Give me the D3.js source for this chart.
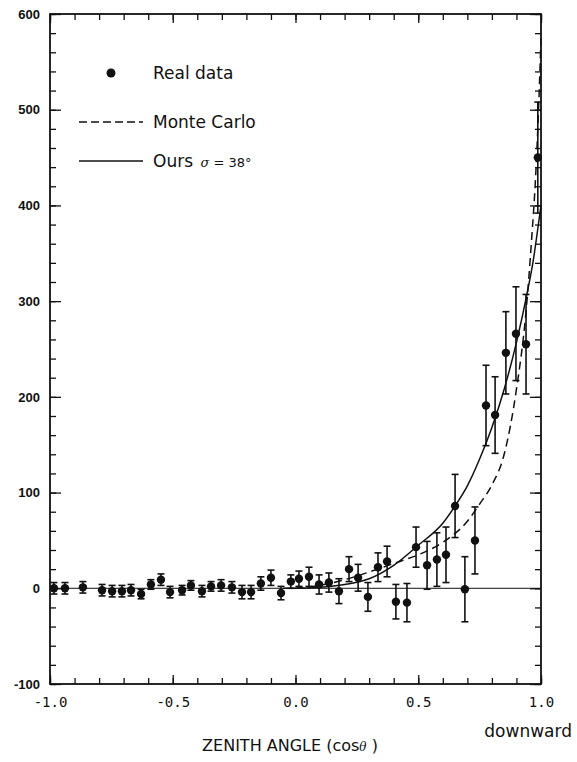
<!DOCTYPE html>
<html>
  <head>
    <meta charset="utf-8">
    <script src="https://d3js.org/d3.v7.min.js"></script>
    <title>Zenith angle distribution</title>
    <style>
      body { margin: 0px; background: #fff; overflow: hidden; }
      svg { display: block; }
      .domain { display: none; }
      .tick line { stroke: #111; stroke-width: 1.3; }
      .y-axis .tick text {
        fill: #111; font-size: 13px; font-weight: bold;
        font-family: 'Liberation Sans', sans-serif;
      }
      .x-axis .tick text {
        fill: #111; font-size: 14px;
        font-family: 'DejaVu Sans Mono', monospace;
      }
      .label {
        fill: #111; font-family: 'DejaVu Sans', sans-serif;
      }
    </style>
  </head>
  <body>
    <svg width="577" height="762"></svg>
    <script>

      // measured points: cos(theta), counts, error half-length
      const cosTheta = [-0.984, -0.939, -0.866, -0.788, -0.747, -0.707, -0.670, -0.629, -0.589, -0.548,
        -0.511, -0.462, -0.426, -0.381, -0.344, -0.303, -0.259, -0.218, -0.181, -0.141,
        -0.100, -0.059, -0.019, 0.014, 0.055, 0.096, 0.136, 0.177, 0.218, 0.255,
        0.295, 0.336, 0.373, 0.409, 0.454, 0.491, 0.536, 0.576, 0.613, 0.650,
        0.690, 0.731, 0.776, 0.813, 0.857, 0.898, 0.939, 0.987];
      const counts = [0, 0, 1, -2, -3, -3, -2, -6, 4, 9,
        -4, -2, 3, -3, 2, 3, 1, -4, -4, 5,
        11, -5, 7, 10, 12, 4, 6, -3, 20, 11,
        -9, 22, 28, -14, -15, 43, 24, 30, 35, 86,
        -1, 50, 191, 181, 246, 266, 255, 450];
      const errors = [6, 6, 6, 6, 6, 6, 6, 5, 5, 6,
        6, 5, 5, 6, 5, 6, 6, 7, 7, 7,
        8, 7, 7, 8, 10, 10, 10, 13, 13, 14,
        15, 15, 16, 18, 20, 21, 25, 28, 29, 33,
        34, 35, 42, 40, 43, 49, 52, 58];

      // Monte Carlo expectation (dashed)
      const mcX = [0.0, 0.1, 0.2, 0.3, 0.4, 0.5, 0.6, 0.7, 0.75, 0.8, 0.85, 0.9, 0.94, 0.96, 0.98, 0.99, 1.0];
      const mcY = [0, 3, 9, 17, 26, 35, 48, 70, 88, 108, 140, 208, 292, 358, 440, 500, 575];

      // our calculation, sigma = 38 deg (solid)
      const oursX = [-0.05, 0.0, 0.1, 0.2, 0.3, 0.4, 0.5, 0.6, 0.65, 0.7, 0.75, 0.8, 0.85, 0.9, 0.94, 0.97, 0.985, 1.0];
      const oursY = [0, 0, 1, 4, 10, 24, 45, 68, 86, 107, 135, 168, 208, 257, 304, 345, 372, 400];

      const yTicks = [-100, 0, 100, 200, 300, 400, 500, 600];
      const xTicks = [-1.0, -0.5, 0.0, 0.5, 1.0];

      const margin = { left: 50, right: 36, top: 14, bottom: 78 };

      const svg = d3.select('svg');
      const width = +svg.attr('width');
      const height = +svg.attr('height');
      const innerWidth = width - margin.left - margin.right;
      const innerHeight = height - margin.top - margin.bottom;

      const g = svg.append('g')
          .attr('transform', `translate(${margin.left},${margin.top})`);

      const xScale = d3.scaleLinear().domain([-1, 1]).range([0, innerWidth]);
      const yScale = d3.scaleLinear().domain([-100, 600]).range([innerHeight, 0]);

      // axes, ticks pointing inward on all four sides
      const minorY = d3.range(-100, 601, 20);
      const minorX = d3.range(-10, 11).map(d => d / 10);

      // tick marks only, no labels
      const tickOnly = (axis, transform) => {
        const a = g.append('g').attr('transform', transform || null).call(axis);
        a.selectAll('text').remove();
        return a;
      };

      tickOnly(d3.axisLeft(yScale).tickValues(minorY).tickSize(-6));
      tickOnly(d3.axisRight(yScale).tickValues(minorY).tickSize(-6), `translate(${innerWidth},0)`);
      tickOnly(d3.axisRight(yScale).tickValues(yTicks).tickSize(-11), `translate(${innerWidth},0)`);
      tickOnly(d3.axisBottom(xScale).tickValues(minorX).tickSize(-6), `translate(0,${innerHeight})`);
      tickOnly(d3.axisTop(xScale).tickValues(minorX).tickSize(-6));
      tickOnly(d3.axisTop(xScale).tickValues(xTicks).tickSize(-9));

      g.append('g').attr('class', 'y-axis')
          .call(d3.axisLeft(yScale).tickValues(yTicks).tickSize(-11).tickPadding(10)
            .tickFormat(d => String(d)));
      g.append('g').attr('class', 'x-axis')
          .attr('transform', `translate(0,${innerHeight})`)
          .call(d3.axisBottom(xScale).tickValues(xTicks).tickSize(-9).tickPadding(13)
            .tickFormat(d => d.toFixed(1)));

      g.append('rect')
          .attr('width', innerWidth)
          .attr('height', innerHeight)
          .attr('fill', 'none')
          .attr('stroke', '#111')
          .attr('stroke-width', 1.8);

      // zero baseline
      g.append('line')
          .attr('x1', xScale(-1)).attr('x2', xScale(1))
          .attr('y1', yScale(0)).attr('y2', yScale(0))
          .attr('stroke', '#111').attr('stroke-width', 1);

      const line = d3.line()
          .x(d => xScale(d[0]))
          .y(d => yScale(d[1]))
          .curve(d3.curveMonotoneX);

      g.append('path')
          .datum(mcX.map((x, i) => [x, mcY[i]]))
          .attr('d', line)
          .attr('fill', 'none')
          .attr('stroke', '#111')
          .attr('stroke-width', 1.5)
          .attr('stroke-dasharray', '8,5');

      g.append('path')
          .datum(oursX.map((x, i) => [x, oursY[i]]))
          .attr('d', line)
          .attr('fill', 'none')
          .attr('stroke', '#111')
          .attr('stroke-width', 1.5);

      // data points with error bars
      const pts = cosTheta.map((x, i) => ({ x, y: counts[i], e: errors[i] }));
      const pg = g.selectAll('.pt').data(pts).enter().append('g').attr('class', 'pt');
      pg.append('line')
          .attr('x1', d => xScale(d.x)).attr('x2', d => xScale(d.x))
          .attr('y1', d => yScale(d.y + d.e)).attr('y2', d => yScale(d.y - d.e))
          .attr('stroke', '#111').attr('stroke-width', 1.6);
      pg.selectAll('.cap').data(d => [[d.x, d.y + d.e], [d.x, d.y - d.e]])
        .enter().append('line')
          .attr('x1', d => xScale(d[0]) - 3.5).attr('x2', d => xScale(d[0]) + 3.5)
          .attr('y1', d => yScale(d[1])).attr('y2', d => yScale(d[1]))
          .attr('stroke', '#111').attr('stroke-width', 1.6);
      pg.append('circle')
          .attr('cx', d => xScale(d.x))
          .attr('cy', d => yScale(d.y))
          .attr('r', 4.2)
          .attr('fill', '#111');

      // legend
      const leg = svg.append('g');
      leg.append('circle').attr('cx', 111).attr('cy', 73).attr('r', 4.5).attr('fill', '#111');
      leg.append('text').attr('class', 'label').attr('x', 153).attr('y', 79)
          .style('font-size', '17px').text('Real data');
      leg.append('line').attr('x1', 79).attr('x2', 143).attr('y1', 122).attr('y2', 122)
          .attr('stroke', '#111').attr('stroke-width', 1.5).attr('stroke-dasharray', '8,4');
      leg.append('text').attr('class', 'label').attr('x', 153).attr('y', 128)
          .style('font-size', '17px').text('Monte Carlo');
      leg.append('line').attr('x1', 79).attr('x2', 143).attr('y1', 161).attr('y2', 161)
          .attr('stroke', '#111').attr('stroke-width', 1.5);
      const ours = leg.append('text').attr('class', 'label').attr('x', 153).attr('y', 167)
          .style('font-size', '17px');
      ours.append('tspan').text('Ours ');
      ours.append('tspan').attr('dx', 2).style('font-size', '13px')
          .style('font-style', 'italic').style('font-family', 'DejaVu Serif, serif').text('σ');
      ours.append('tspan').style('font-size', '13px').text(' = 38°');

      // axis titles
      svg.append('text').attr('class', 'label')
          .attr('x', 572).attr('y', 737)
          .attr('text-anchor', 'end')
          .style('font-size', '17px')
          .text('downward');
      const xt = svg.append('text').attr('class', 'label')
          .attr('x', 290).attr('y', 751)
          .attr('text-anchor', 'middle')
          .style('font-size', '16px');
      xt.append('tspan').text('ZENITH ANGLE (cos');
      xt.append('tspan').style('font-style', 'italic').style('font-size', '12px')
          .style('font-family', 'DejaVu Serif, serif').text('θ');
      xt.append('tspan').text(' )');
    </script>
  </body>
</html>
